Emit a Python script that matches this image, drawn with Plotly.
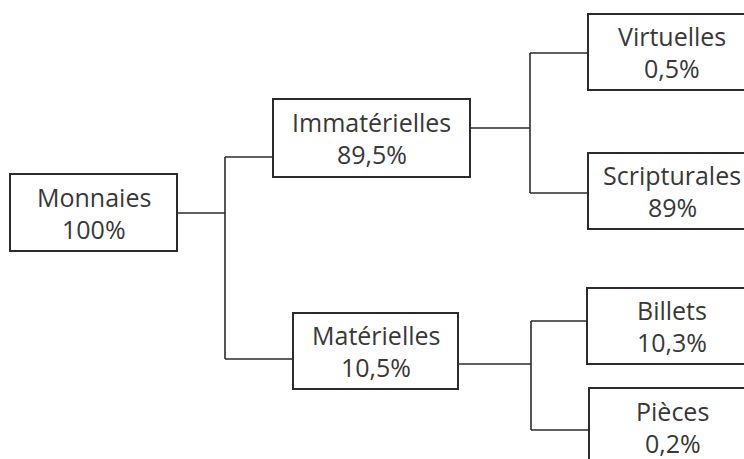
import plotly.graph_objects as go

# ---- data ----
labels = ["Monnaies", "Immatérielles", "Matérielles", "Virtuelles", "Scripturales", "Billets", "Pièces"]
parents = ["", "Monnaies", "Monnaies", "Immatérielles", "Immatérielles", "Matérielles", "Matérielles"]
shares = [100, 89.5, 10.5, 0.5, 89, 10.3, 0.2]

# ---- layout (diagram coordinates) ----
boxes = {
    "Monnaies":      dict(x0=10,  x1=177, y0=174, y1=251, in_y=None, out_y=213),
    "Immatérielles": dict(x0=273, x1=470, y0=99,  y1=177, in_y=157,  out_y=128),
    "Matérielles":   dict(x0=293, x1=458, y0=313, y1=389, in_y=359,  out_y=364),
    "Virtuelles":    dict(x0=588, x1=756, y0=14,  y1=90,  in_y=53,   out_y=None),
    "Scripturales":  dict(x0=588, x1=756, y0=153, y1=229, in_y=193,  out_y=None),
    "Billets":       dict(x0=587, x1=756, y0=288, y1=364, in_y=321,  out_y=None),
    "Pièces":        dict(x0=589, x1=756, y0=388, y1=466, in_y=430,  out_y=None),
}
bus_x = {"Monnaies": 225, "Immatérielles": 530, "Matérielles": 531}

LINE = "#2b2b2b"
TEXT = "#383838"
FONT = "'Open Sans', sans-serif"
FSIZE = 25


def fmt(v):
    return ("%g" % v).replace(".", ",") + "%"


fig = go.Figure()
shapes = []
annotations = []

for lab, val in zip(labels, shares):
    b = boxes[lab]
    shapes.append(dict(type="rect", xref="x", yref="y", x0=b["x0"], x1=b["x1"], y0=b["y0"], y1=b["y1"],
                       line=dict(color=LINE, width=2), fillcolor="white", layer="below"))
    cx = (b["x0"] + b["x1"]) / 2
    cy = (b["y0"] + b["y1"]) / 2
    for txt, dy in ((lab, -16), (fmt(val), 16)):
        annotations.append(dict(x=cx, y=cy + dy, xref="x", yref="y", text=txt,
                                showarrow=False, font=dict(family=FONT, size=FSIZE, color=TEXT),
                                xanchor="center", yanchor="middle"))

# connectors
for parent in bus_x:
    pb = boxes[parent]
    bx = bus_x[parent]
    kids = [l for l, p in zip(labels, parents) if p == parent]
    ys = [boxes[k]["in_y"] for k in kids]
    seg_x, seg_y = [], []
    seg_x += [pb["x1"], bx, None]
    seg_y += [pb["out_y"], pb["out_y"], None]
    seg_x += [bx, bx, None]
    seg_y += [min(ys), max(ys), None]
    for k, y in zip(kids, ys):
        seg_x += [bx, boxes[k]["x0"], None]
        seg_y += [y, y, None]
    fig.add_trace(go.Scatter(x=seg_x, y=seg_y, mode="lines", line=dict(color=LINE, width=1.6),
                             hoverinfo="skip", showlegend=False))

fig.update_layout(
    width=744, height=459,
    margin=dict(l=0, r=0, t=0, b=0),
    paper_bgcolor="white", plot_bgcolor="white",
    xaxis=dict(range=[0, 744], visible=False, fixedrange=True),
    yaxis=dict(range=[459, 0], visible=False, fixedrange=True),
    shapes=shapes, annotations=annotations, showlegend=False,
)

fig.write_html("out.html", post_script="document.body.style.margin='0';", config={"displayModeBar": False})
